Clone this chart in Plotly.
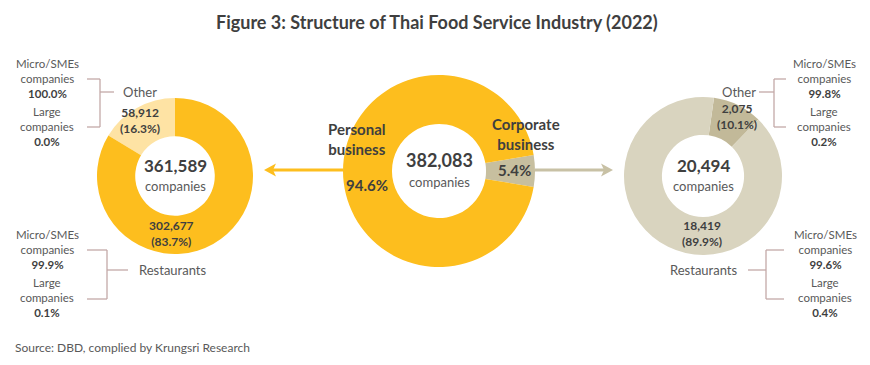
import plotly.graph_objects as go

W, H = 870, 365

# ---- data ----
total_companies = 382083
business_labels = ["Corporate business", "Personal business"]
business_values = [20494, 361589]
business_pct = ["5.4%", "94.6%"]

personal_labels = ["Other", "Restaurants"]
personal_values = [58912, 302677]
personal_pct = ["16.3%", "83.7%"]
personal_size = {"Other": ["100.0%", "0.0%"], "Restaurants": ["99.9%", "0.1%"]}

corporate_labels = ["Other", "Restaurants"]
corporate_values = [2075, 18419]
corporate_pct = ["10.1%", "89.9%"]
corporate_size = {"Other": ["99.8%", "0.2%"], "Restaurants": ["99.6%", "0.4%"]}

YEL = "#FDBE1E"
YEL_L = "#FEE3A4"
BEI = "#D9D4BF"
BEI_D = "#C2B999"
CORP = "#C7BF9F"
ARROW_G = "#C8C1A5"
BRK = "#C3A9A8"
DARK = "#3F3F3F"
GREY = "#595959"
FONT = "Lato"


def px(x):
    return x / W


def py(y):
    return 1 - y / H


def dom(cx, cy, r):
    return dict(x=[px(cx - r), px(cx + r)], y=[py(cy + r), py(cy - r)])


fig = go.Figure()

# left donut (personal business): "Other" runs from 12 o'clock towards the left
other_frac = personal_values[0] / sum(personal_values)
fig.add_trace(go.Pie(
    labels=personal_labels, values=personal_values, sort=False,
    direction="clockwise", rotation=-other_frac * 360, hole=0.51,
    marker=dict(colors=[YEL_L, YEL], line=dict(width=0)),
    textinfo="none", hoverinfo="label+value", domain=dom(175, 176, 78),
    showlegend=False))

# center donut
corp_frac = business_values[0] / sum(business_values)
fig.add_trace(go.Pie(
    labels=business_labels, values=business_values, sort=False,
    direction="clockwise", rotation=90 - corp_frac * 360 / 2, hole=0.49,
    marker=dict(colors=[CORP, YEL], line=dict(width=0)),
    textinfo="none", hoverinfo="label+value", domain=dom(439, 171, 96),
    showlegend=False))

# right donut (corporate business)
fig.add_trace(go.Pie(
    labels=corporate_labels, values=corporate_values, sort=False,
    direction="clockwise", rotation=8, hole=0.52,
    marker=dict(colors=[BEI_D, BEI], line=dict(width=0)),
    textinfo="none", hoverinfo="label+value", domain=dom(703, 176, 79),
    showlegend=False))

ann = []


def txt(x, y, s, size=12, color=GREY, bold=False, xanchor="center"):
    if bold:
        s = "<b>" + s + "</b>"
    ann.append(dict(x=px(x), y=py(y), xref="paper", yref="paper", text=s,
                    showarrow=False, xanchor=xanchor, yanchor="middle",
                    font=dict(family=FONT, size=size, color=color)))


# title
txt(437, 22, "Figure 3: Structure of Thai Food Service Industry (2022)", size=18, color=DARK, bold=True)

# center labels
txt(175, 165, f"{sum(personal_values):,}", size=17, color=DARK, bold=True)
txt(175, 185.5, "companies", size=13)
txt(439, 160, f"{total_companies:,}", size=18, color=DARK, bold=True)
txt(439, 181.5, "companies", size=13)
txt(703, 165, f"{sum(corporate_values):,}", size=17, color=DARK, bold=True)
txt(703, 185.5, "companies", size=13)

# center donut labels
txt(326, 139, "<b>Personal<br>business</b>", size=15, color=DARK, xanchor="left")
txt(367, 185, business_pct[1], size=15, color=DARK, bold=True)
txt(490, 134, "<b>Corporate<br>business</b>", size=15, color=DARK, xanchor="left")
txt(514, 170, business_pct[0], size=15, color=DARK, bold=True)

# slice labels
txt(140, 120, f"<b>{personal_values[0]:,}<br>({personal_pct[0]})</b>", size=12, color=DARK)
txt(171, 233, f"<b>{personal_values[1]:,}<br>({personal_pct[1]})</b>", size=12, color=DARK)
txt(737, 116, f"<b>{corporate_values[0]:,}<br>({corporate_pct[0]})</b>", size=12, color=DARK)
txt(702, 233, f"<b>{corporate_values[1]:,}<br>({corporate_pct[1]})</b>", size=12, color=DARK)

# category labels
txt(121, 92, "Other", size=13, xanchor="left")
txt(137, 270, "Restaurants", size=13, xanchor="left")
txt(758, 92, "Other", size=13, xanchor="right")
txt(739, 270, "Restaurants", size=13, xanchor="right")


def size_block(cx, y0, vals):
    txt(cx, y0 + 13.5, f"Micro/SMEs<br>companies<br><b style='color:{DARK}'>{vals[0]}</b>", size=11.5)
    txt(cx, y0 + 61, f"Large<br>companies<br><b style='color:{DARK}'>{vals[1]}</b>", size=11.5)


size_block(47, 65, personal_size["Other"])
size_block(47, 236, personal_size["Restaurants"])
size_block(824, 65, corporate_size["Other"])
size_block(825, 236, corporate_size["Restaurants"])

# source
txt(13, 347, "Source: DBD, complied by Krungsri Research", size=12, xanchor="left")

shapes = []


def line(x0, y0, x1, y1, color=BRK, width=1.3):
    shapes.append(dict(type="line", xref="paper", yref="paper",
                       x0=px(x0), y0=py(y0), x1=px(x1), y1=py(y1),
                       line=dict(color=color, width=width)))


def bracket(xo, xv, xm, y_top, y_bot, y_mid):
    line(xo, y_top, xv, y_top)
    line(xv, y_top, xv, y_bot)
    line(xo, y_bot, xv, y_bot)
    line(xv, y_mid, xm, y_mid)


bracket(87, 100, 114, 79, 127, 92)
bracket(87, 107, 128, 250, 299, 270)
bracket(786, 774, 759, 79, 127, 92)
bracket(784, 766, 748, 250, 299, 270)


def arrow(x0, x1, y, color):
    d = 1 if x1 > x0 else -1
    line(x0, y, x1 - d * 8, y, color=color, width=3)
    path = (f"M {px(x1)} {py(y)} L {px(x1 - d * 12)} {py(y - 6.5)} "
            f"L {px(x1 - d * 9)} {py(y)} L {px(x1 - d * 12)} {py(y + 6.5)} Z")
    shapes.append(dict(type="path", xref="paper", yref="paper", path=path,
                       fillcolor=color, line=dict(width=0)))


arrow(343, 264, 170, YEL)
arrow(535, 613, 170, ARROW_G)

fig.update_layout(
    width=W, height=H, margin=dict(l=0, r=0, t=0, b=0),
    paper_bgcolor="white", plot_bgcolor="white",
    annotations=ann, shapes=shapes,
)

fig.write_html("out.html")
